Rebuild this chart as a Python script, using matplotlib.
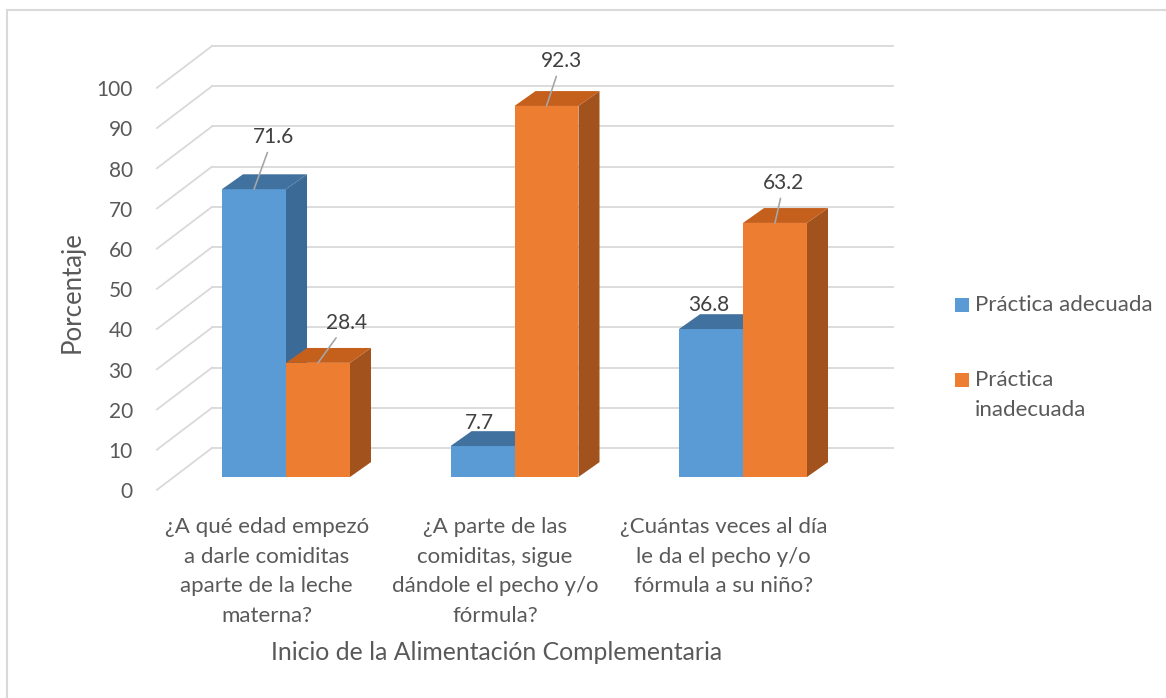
import matplotlib
matplotlib.use('Agg')
import matplotlib.pyplot as plt
from matplotlib.patches import Polygon, Rectangle
import numpy as np

plt.rcParams['font.family'] = ['Lato', 'DejaVu Sans']

# data
categories = ['¿A qué edad empezó\na darle comiditas\naparte de la leche\nmaterna?',
              '¿A parte de las\ncomiditas, sigue\ndándole el pecho y/o\nfórmula?',
              '¿Cuántas veces al día\nle da el pecho y/o\nfórmula a su niño?']
series_names = ['Práctica adecuada', 'Práctica\ninadecuada']
adecuada = [71.6, 7.7, 36.8]
inadecuada = [28.4, 92.3, 63.2]
y_ticks = [0, 10, 20, 30, 40, 50, 60, 70, 80, 90, 100]

# label offsets in pixels (x, y) and whether a leader line is drawn
lbl_off = [[(19, 52), (-3, 23), (-2, 24)],
           [(29, 40), (15, 45), (9, 40)]]
lbl_lead = [[True, False, False],
            [True, True, True]]

W, H = 1166, 698
fig = plt.figure(figsize=(W / 100, H / 100), dpi=100)
ax = fig.add_axes([0, 0, 1, 1])
# pixel -> data: x = (px-286)/228.5, y = (477-py)/4.02
ax.set_xlim((0 - 286) / 228.5, (W - 286) / 228.5)
ax.set_ylim((477 - H) / 4.02, 477 / 4.02)
ax.axis('off')

txt = '#595959'
grid = '#d9d9d9'
faces = [('#5b9bd5', '#41719f', '#3b6a97'),
         ('#ed7d31', '#c45f1c', '#a1521d')]

bw = 0.28          # bar width
ddx, ddy = 0.092, 3.7   # bar depth offset
back_x0, back_x1 = -0.324, 2.656
front_x0 = -0.565
back_dy, front_dy = 7.2, -3.2

# back wall gridlines + side wall diagonals
for v in y_ticks:
    ax.plot([back_x0, back_x1], [v + back_dy, v + back_dy], color=grid, lw=1.3, zorder=1)
    ax.plot([front_x0, back_x0], [v + front_dy, v + back_dy], color=grid, lw=1.3, zorder=1)
    ax.text(-0.67, v - 3.8, str(v), ha='right', va='center', fontsize=15, color=txt)

x = np.arange(len(categories))
for si, vals in enumerate([adecuada, inadecuada]):
    front, top, side = faces[si]
    xs = x - bw / 2 + si * bw
    bars = ax.bar(xs, vals, width=bw, color=front, zorder=2 + si * 2)
    for b, v in zip(bars, vals):
        x0 = b.get_x()
        x1 = x0 + bw
        ax.add_patch(Polygon([(x0, v), (x1, v), (x1 + ddx, v + ddy), (x0 + ddx, v + ddy)],
                             closed=True, fc=top, ec='none', zorder=2 + si * 2))
        ax.add_patch(Polygon([(x1, 0), (x1 + ddx, ddy), (x1 + ddx, v + ddy), (x1, v)],
                             closed=True, fc=side, ec='none', zorder=1.5 + si * 2))
    for i, (b, v) in enumerate(zip(bars, vals)):
        ap = dict(arrowstyle='-', color='#a6a6a6', lw=1.2, shrinkA=2, shrinkB=0) if lbl_lead[si][i] else None
        ax.annotate('%.1f' % v, xy=(b.get_x() + bw / 2, v), xytext=lbl_off[si][i],
                    textcoords='offset pixels', ha='center', va='center',
                    fontsize=15, color='#404040', arrowprops=ap, zorder=10)

# category labels
for i, c in enumerate(categories):
    ax.text(i - 0.085, (477 - 517) / 4.02, c, ha='center', va='top', fontsize=16, color=txt,
            linespacing=1.6)

ax.text((497 - 286) / 228.5, (477 - 653) / 4.02, 'Inicio de la Alimentación Complementaria',
        ha='center', va='center', fontsize=17.8, color=txt)
ax.text((72 - 286) / 228.5, (477 - 292) / 4.02, 'Porcentaje', rotation=90,
        ha='center', va='center', fontsize=18.5, color=txt)

# legend
leg_y = [305, 380]
for i, name in enumerate(series_names):
    fig.patches.append(Rectangle((955 / W, 1 - (leg_y[i] + 7) / H), 14 / W, 14 / H,
                                 transform=fig.transFigure, fc=faces[i][0], ec='none'))
    fig.text(975 / W, 1 - (leg_y[i] - 10) / H, name, ha='left', va='top',
             fontsize=16, color=txt, linespacing=1.6)

# chart frame
fig.patches.append(Rectangle((7 / W, -0.1), 2, 1 - 10 / H + 0.1, transform=fig.transFigure,
                             fc='none', ec='#d9d9d9', lw=1.5))

fig.savefig('out.png', dpi=100)
